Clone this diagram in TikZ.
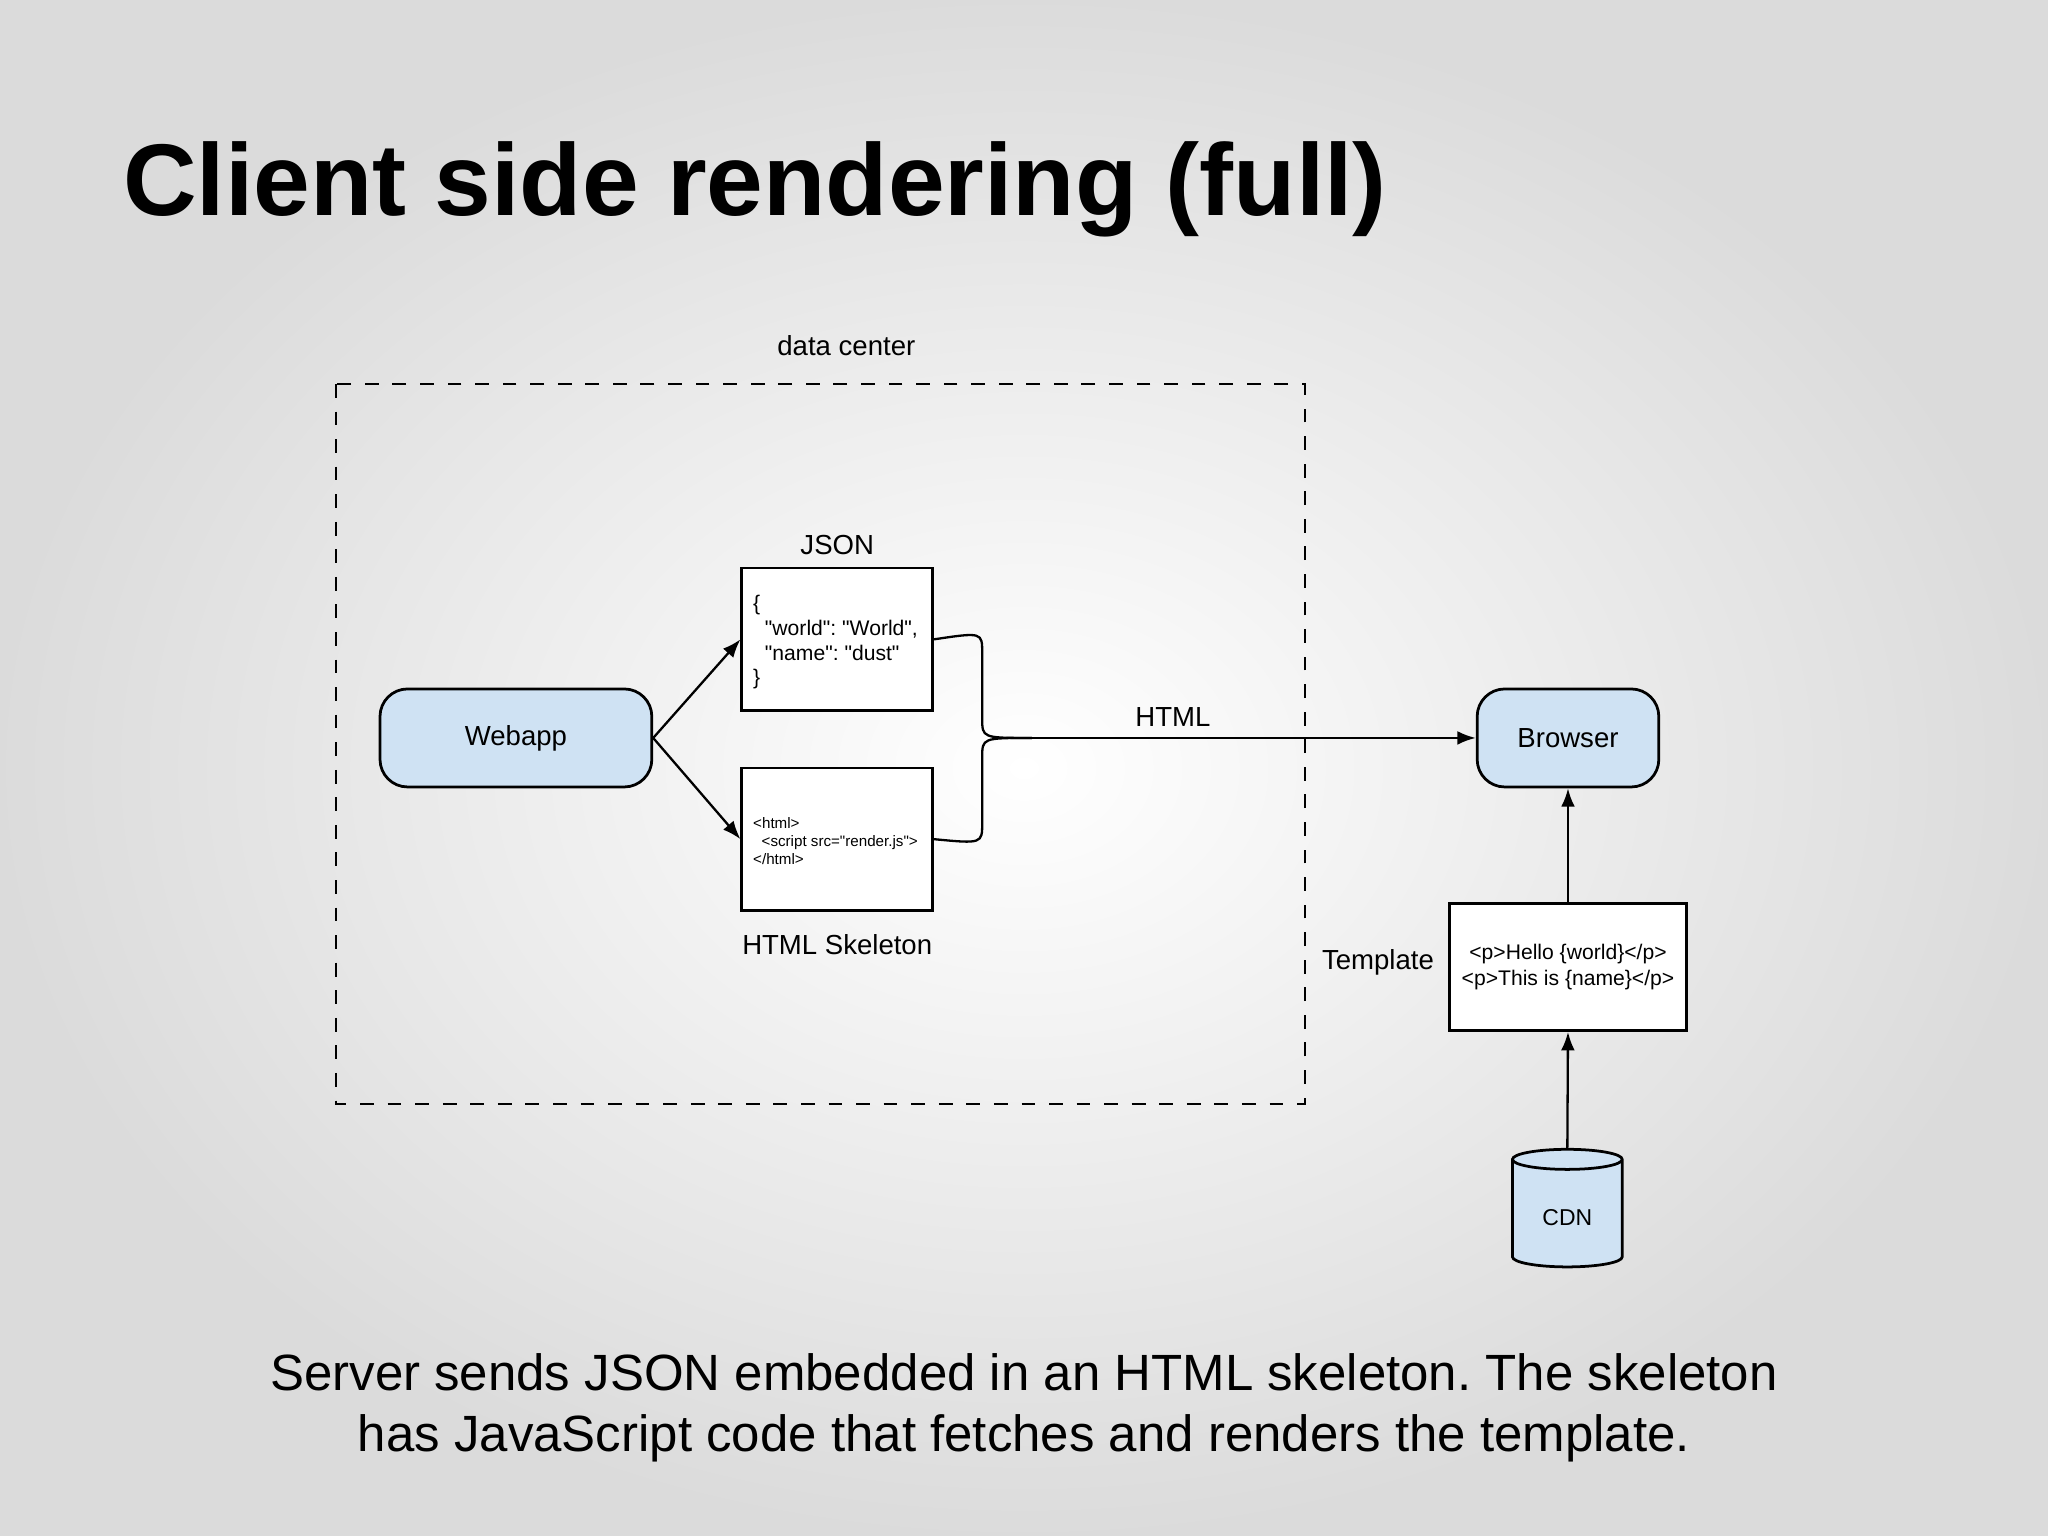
\documentclass[tikz,border=0pt]{standalone}
\usepackage{fontspec}
\setmainfont{Liberation Sans}
\usetikzlibrary{shapes.geometric,arrows.meta}
\definecolor{lb}{HTML}{CFE2F3}
\newcommand\qq{\textquotedbl}
\frenchspacing
\begin{document}
\begin{tikzpicture}[x=0.01cm,y=-0.01cm,
  blue/.style={draw=black,fill=lb,rounded corners=6pt,line width=0.6pt,inner sep=0pt},
  box/.style={draw=black,fill=white,line width=0.6pt,inner sep=0pt},
  arr/.style={-{Latex[length=4pt,width=3pt]},line width=0.5pt},
  lbl/.style={font=\fontsize{6}{7}\selectfont}]
\useasboundingbox (0,0) rectangle (1568,1176);
\shade[inner color=white,outer color=black!14] (0,0) rectangle (1568,1176);
\node[anchor=west,font=\fontsize{22.2}{26}\selectfont\bfseries] (title) at (82,145) {Client side rendering (full)};
\draw[dashed,line width=0.5pt] (257,294) rectangle (999,845);
\node[lbl] (dc) at (648,265) {data center};
\node[blue,lbl,minimum width=2.08cm,minimum height=0.75cm] (web) at (395,565) {Webapp};
\node[box,minimum width=1.46cm,minimum height=1.09cm] (json) at (641,489.5) {};
\node[lbl] (jsonl) at (641,417) {JSON};
\node[anchor=north west,align=left,font=\fontsize{4.6}{5.4}\selectfont,inner sep=0pt] (jsont) at (576,455) {\{\\\ \ \qq world\qq: \qq World\qq,\\\ \ \qq name\qq: \qq dust\qq\\\}};
\node[box,minimum width=1.46cm,minimum height=1.09cm] (html) at (641,642.5) {};
\node[lbl] (htmll) at (641,723) {HTML Skeleton};
\node[anchor=north west,align=left,font=\fontsize{3.3}{3.9}\selectfont,inner sep=0pt] (htmlt) at (576,625) {<html>\\\ \ <script src=\qq render.js\qq>\\</html>};
\node[blue,lbl,minimum width=1.39cm,minimum height=0.75cm] (br) at (1200.5,565) {Browser};
\node[box,align=center,font=\fontsize{4.6}{5.6}\selectfont,minimum width=1.81cm,minimum height=0.97cm] (tp) at (1200.5,740.5) {<p>Hello \{world\}</p>\\<p>This is \{name\}</p>};
\node[lbl] (tpl) at (1055,737) {Template};
\node[cylinder,shape border rotate=90,aspect=0.25,draw=black,fill=lb,line width=0.6pt,minimum width=0.84cm,minimum height=0.9cm,font=\fontsize{5}{6}\selectfont] (cdn) at (1200,932) {CDN};
\coordinate (m) at (790,565);
\draw[arr] (web.east) -- (json.west);
\draw[arr] (web.east) -- (html.west);
\draw[line width=0.5pt] (json.east) .. controls (752,484) .. (752,500) -- (752,550) .. controls (752,565) .. (m);
\draw[line width=0.5pt] (html.east) .. controls (752,646) .. (752,630) -- (752,580) .. controls (752,565) .. (m);
\draw[arr] (m) -- (br.west);
\node[lbl] (htmlarr) at (898,549) {HTML};
\draw[arr] (tp.north) -- (br.south);
\draw[arr] (cdn.north) -- (tp.south);
\node[align=center,font=\fontsize{11.1}{13.2}\selectfont] (cap) at (784,1078) {Server sends JSON embedded in an HTML skeleton. The skeleton\\has JavaScript code that fetches and renders the template.};
\end{tikzpicture}
\end{document}
